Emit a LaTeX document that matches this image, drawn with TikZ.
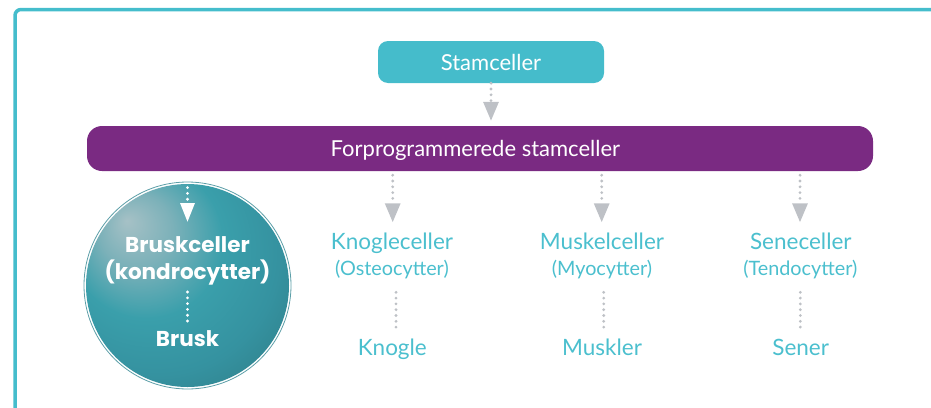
\documentclass[tikz,border=0pt]{standalone}
\usepackage{fontspec}
\setmainfont{Lato}
\newfontfamily\popfont{Poppins}
\usetikzlibrary{arrows.meta,calc}
\definecolor{framec}{HTML}{45BDCC}
\definecolor{tealc}{HTML}{45BCCB}
\definecolor{tealt}{HTML}{4BBFCE}
\definecolor{purp}{HTML}{7A2A82}
\definecolor{grayc}{HTML}{BEC1C6}
\definecolor{ballL}{HTML}{A6C1C6}
\definecolor{ballLM}{HTML}{7CB1B9}
\definecolor{ballM}{HTML}{3A9FAB}
\definecolor{ballMD}{HTML}{3592A0}
\definecolor{ballD}{HTML}{2F7F89}
\definecolor{ringc}{HTML}{5C9FA8}
\pgfdeclareradialshading{ballshade}{\pgfpoint{-15bp}{16bp}}{color(0bp)=(ballL); color(9bp)=(ballLM); color(19bp)=(ballM); color(30bp)=(ballMD); color(40bp)=(ballD); color(60bp)=(ballD)}
\begin{document}
\begin{tikzpicture}[x=1pt,y=-1pt,
  boxc/.style={fill=tealc, rounded corners=10pt, minimum width=226pt, minimum height=42pt, inner sep=0pt, text=white, font=\fontsize{22}{24}\selectfont},
  barc/.style={fill=purp, rounded corners=15pt, minimum width=786pt, minimum height=45pt, inner sep=0pt},
  bartext/.style={text=white, font=\fontsize{22}{24}\selectfont, inner sep=0pt, anchor=base},
  coltext/.style={text=tealt, font=\fontsize{22.5}{24}\selectfont, inner sep=0pt, anchor=base},
  subtext/.style={text=tealt, font=\fontsize{19.8}{22}\selectfont, inner sep=0pt, anchor=base},
  balltext/.style={text=white, font=\popfont\bfseries\fontsize{21.5}{24}\selectfont, inner sep=0pt, anchor=base},
  dotline/.style={draw=grayc, line width=3.1pt, line cap=round, dash pattern=on 0pt off 5.8pt},
  arrline/.style={dotline, -{Triangle[width=15pt,length=19pt]}, grayc},
  wdot/.style={draw=white, line width=3.1pt, line cap=round, dash pattern=on 0pt off 5.8pt},
  warr/.style={wdot, -{Triangle[width=14pt,length=19pt]}, white}]
\useasboundingbox (0,0) rectangle (931,407);
% frame
\draw[framec, line width=3.5pt, rounded corners=6pt] (15,9.5) rectangle (990,460);
% top boxes
\node[boxc] (stam) at (491,62) {};
\node[text=white, font=\fontsize{22}{24}\selectfont, inner sep=0pt, anchor=base] (stamt) at (491,70.7) {Stamceller};
\node[barc] (forp) at (480,148.5) {};
\node[bartext] (forpt) at (475.4,156.7) {Forprogrammerede stamceller};
\draw[arrline] (stam.south) -- ($(forp.north)+(11,-5)$);
% circle
\node[circle, minimum size=207pt, inner sep=0pt, draw=ringc, line width=0.8pt, fill=white] (brusk) at (187.5,285.5) {};
\path[shading=ballshade] (brusk.center) circle (101.5);
\node[balltext] (bc) at (187.5,252.7) {Bruskceller};
\node[balltext] (bk) at (187.5,279.5) {(kondrocytter)};
\node[balltext] (bb) at (187.5,346.7) {Brusk};
\draw[warr] ($(brusk.north)+(0,6)$) -- ($(bc.base)+(0,-30.7)$);
\draw[wdot] ($(bk.base)+(0,12.5)$) -- ($(bb.base)+(0,-20)$);
% columns
\node[coltext] (kc) at (392,249.3) {Knogleceller};
\node[subtext] (ko) at (392,275.7) {(Osteocytter)};
\node[coltext] (kn) at (392.3,355) {Knogle};
\node[coltext] (mc) at (602,249.3) {Muskelceller};
\node[subtext] (mo) at (602,275.7) {(Myocytter)};
\node[coltext] (mn) at (602,355) {Muskler};
\node[coltext] (sc) at (800.8,249.3) {Seneceller};
\node[subtext] (so) at (800.3,275.7) {(Tendocytter)};
\node[coltext] (sn) at (800.7,355) {Sener};
\draw[arrline] ($(forp.south -| kc.base)+(0.7,4)$) -- ($(kc.base)+(0.7,-27)$);
\draw[arrline] ($(forp.south -| mc.base)+(-0.3,4)$) -- ($(mc.base)+(-0.3,-27)$);
\draw[arrline] ($(forp.south -| sc.base)+(-0.8,4)$) -- ($(sc.base)+(-0.8,-27)$);
\draw[dotline] ($(ko.base)+(4,16.6)$) -- ($(kn.base)+(3.7,-27.3)$);
\draw[dotline] ($(mo.base)+(1.7,16.6)$) -- ($(mn.base)+(1.7,-27.3)$);
\draw[dotline] ($(so.base)+(0,16.6)$) -- ($(sn.base)+(-0.4,-27.3)$);
\end{tikzpicture}
\end{document}
